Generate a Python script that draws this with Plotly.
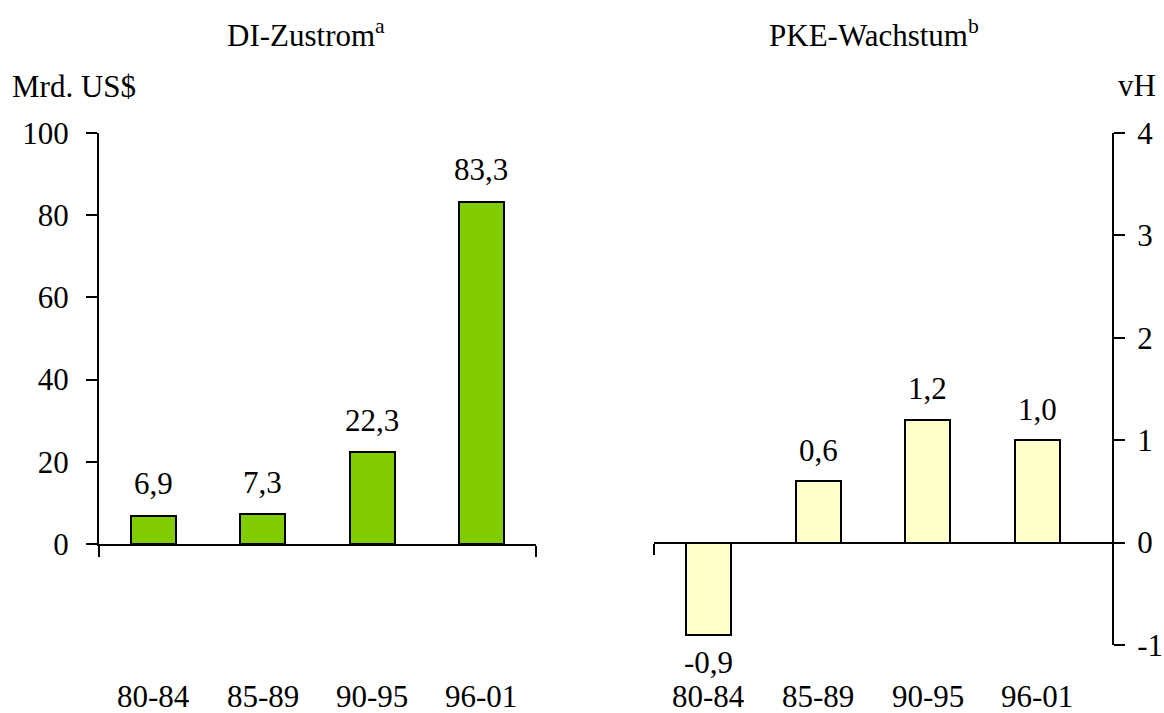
import plotly.graph_objects as go

categories = ["80-84", "85-89", "90-95", "96-01"]
di_values = [6.9, 7.3, 22.3, 83.3]
pke_values = [-0.9, 0.6, 1.2, 1.0]
left_ticks = [0, 20, 40, 60, 80, 100]
right_ticks = [-1, 0, 1, 2, 3, 4]

W, H = 1164, 713
FONT = "Liberation Serif, Times New Roman, serif"
FS = 31

# layout geometry (paper fractions)
lx0, lx1 = 99 / W, 536 / W
rx0, rx1 = 654 / W, 1112 / W
top = 1 - 133 / H
lbot = 1 - 544 / H
rbot = 1 - 645 / H
lrange = [0, 100]
rrange = [-1, 4]
zero_pos = rbot + (0 - rrange[0]) / (rrange[1] - rrange[0]) * (top - rbot)

def fmt(v):
    return f"{v:.1f}".replace(".", ",")

def fmt_tick(v):
    return str(v)

fig = go.Figure()
fig.add_trace(go.Bar(
    x=list(range(len(categories))), y=di_values, xaxis="x", yaxis="y",
    marker=dict(color="#80CC00", line=dict(color="black", width=2)),
    width=0.41, hoverinfo="skip", showlegend=False,
))
fig.add_trace(go.Bar(
    x=list(range(len(categories))), y=pke_values, xaxis="x2", yaxis="y2",
    marker=dict(color="#FFFFCC", line=dict(color="black", width=2)),
    width=0.41, hoverinfo="skip", showlegend=False,
))

tf = dict(size=FS, family=FONT, color="black")
annotations = []
for i, v in enumerate(di_values):
    annotations.append(dict(x=i, y=v, xref="x", yref="y", text=fmt(v),
                            showarrow=False, yanchor="middle", yshift=32, font=tf))
for i, v in enumerate(pke_values):
    annotations.append(dict(x=i, y=v, xref="x2", yref="y2", text=fmt(v),
                            showarrow=False, yanchor="middle",
                            yshift=31 if v >= 0 else -28, font=tf))
# category labels at bottom
for i, c in enumerate(categories):
    for xr in ("x", "x2"):
        annotations.append(dict(x=i, y=1 - 696 / H, xref=xr, yref="paper", text=c,
                                showarrow=False, yanchor="middle", height=24,
                                valign="middle", font=tf))
# titles and units
annotations += [
    dict(x=225 / W, y=1 - 33 / H, xref="paper", yref="paper",
         text="DI-Zustrom<sup>a</sup>", showarrow=False, xanchor="left",
         yanchor="middle", font=tf),
    dict(x=767 / W, y=1 - 33 / H, xref="paper", yref="paper",
         text="PKE-Wachstum<sup>b</sup>", showarrow=False, xanchor="left",
         yanchor="middle", font=tf),
    dict(x=10 / W, y=1 - 87 / H, xref="paper", yref="paper",
         text="Mrd. US$", showarrow=False, xanchor="left", yanchor="middle",
         font=tf),
    dict(x=1158 / W, y=1 - 86 / H, xref="paper", yref="paper",
         text="vH", showarrow=False, xanchor="right", yanchor="middle",
         font=tf),
]

axis_common = dict(showgrid=False, zeroline=False, showline=True,
                   linecolor="black", linewidth=2, ticks="outside",
                   ticklen=11, tickwidth=2, tickcolor="black",
                   automargin=False, fixedrange=True,
                   tickfont=tf)

fig.update_layout(
    template="none",
    width=W, height=H, margin=dict(l=0, r=0, t=0, b=0, pad=0),
    paper_bgcolor="white", plot_bgcolor="rgba(0,0,0,0)",
    bargap=0, annotations=annotations, showlegend=False,
    xaxis=dict(domain=[lx0, lx1], range=[-0.5, 3.5], anchor="y",
               tickvals=[-0.5, 3.5], showticklabels=False, **axis_common),
    yaxis=dict(domain=[lbot, top], range=lrange, anchor="x",
               tickvals=left_ticks, ticktext=[fmt_tick(t) for t in left_ticks],
               ticklabelstandoff=11, **axis_common),
    xaxis2=dict(domain=[rx0, rx1], range=[-0.5, 3.68], anchor="free",
                position=zero_pos, tickvals=[-0.5], showticklabels=False,
                **axis_common),
    yaxis2=dict(domain=[rbot, top], range=rrange, anchor="x2", side="right",
                tickvals=right_ticks, ticktext=[fmt_tick(t) for t in right_ticks],
                ticklabelstandoff=6, **axis_common),
)

fig.write_html("out.html", config={"displayModeBar": False},
               post_script="document.body.style.margin='0px';")
